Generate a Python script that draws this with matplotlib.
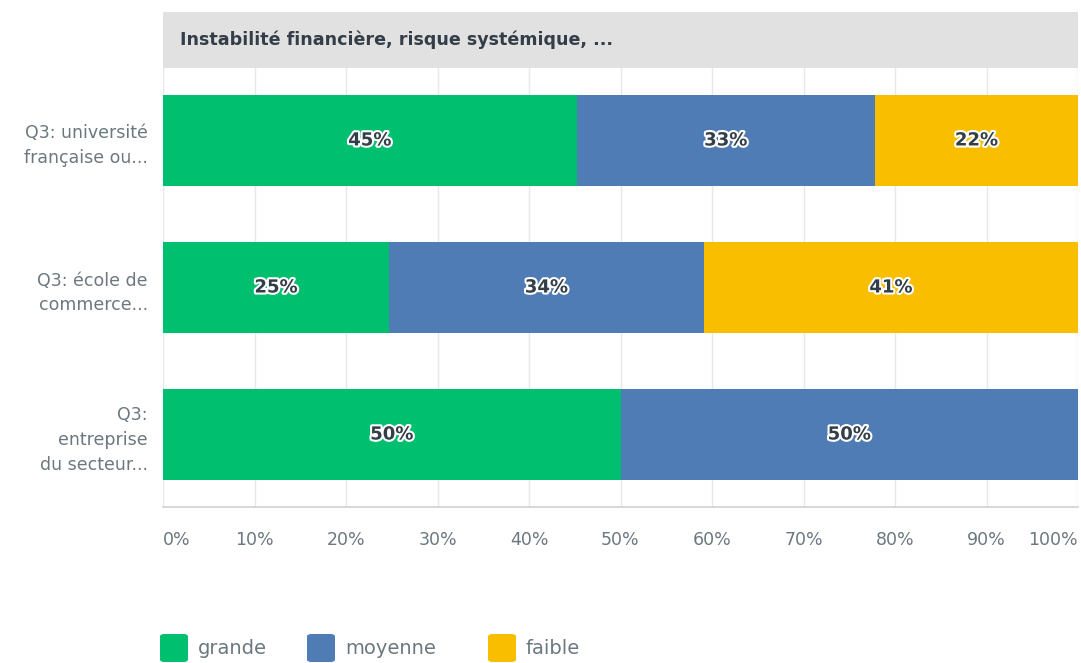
import matplotlib
matplotlib.use("Agg")
import matplotlib.pyplot as plt
import matplotlib.patheffects as pe
from matplotlib.patches import FancyBboxPatch, Rectangle
import numpy as np

plt.rcParams['font.family'] = ['DejaVu Sans']

categories = ["Q3: université\nfrançaise ou...",
              "Q3: école de\ncommerce...",
              "Q3:\nentreprise\ndu secteur..."]
series_names = ["grande", "moyenne", "faible"]
series_colors = ["#00bf6f", "#507cb6", "#f9be00"]
grande = [45.2, 24.7, 50.0]
moyenne = [32.6, 34.4, 50.0]
faible = [22.2, 40.9, 0.0]
series_values = [grande, moyenne, faible]
xticks = [0, 10, 20, 30, 40, 50, 60, 70, 80, 90, 100]
xtick_labels = ["0%", "10%", "20%", "30%", "40%", "50%", "60%", "70%", "80%", "90%", "100%"]
header_title = "Instabilité financière, risque systémique, ..."

W, H = 1081, 663
fig = plt.figure(figsize=(W / 100, H / 100), dpi=100)
ax = fig.add_axes([163 / W, 1 - 507 / H, 915 / W, (507 - 68) / H])

y = np.arange(len(categories))
left = np.zeros(len(categories))
for name, color, vals in zip(series_names, series_colors, series_values):
    vals = np.array(vals)
    ax.barh(y, vals, left=left, height=0.62, color=color, zorder=3)
    for yi, l, v in zip(y, left, vals):
        if v > 0:
            ax.text(l + v / 2, yi, f"{round(v):.0f}%", ha='center', va='center',
                    fontsize=13, fontweight='bold', color='#333e48', zorder=4,
                    path_effects=[pe.withStroke(linewidth=3, foreground='white')])
    left += vals

ax.set_xlim(0, 100)
ax.set_ylim(2.493, -0.493)
ax.set_xticks(xticks)
ax.set_xticklabels(xtick_labels, fontsize=12.5, color='#6b787f')
tl = ax.get_xticklabels()
tl[0].set_ha('left')
tl[-1].set_ha('right')
ax.set_yticks(y)
ax.set_yticklabels(categories, fontsize=12.5, color='#6b787f', linespacing=1.5)
ax.tick_params(axis='both', length=0)
ax.tick_params(axis='x', pad=17)
ax.tick_params(axis='y', pad=11)
ax.grid(axis='x', color='#e8e8e8', linewidth=1, zorder=0)
for s in ['top', 'right', 'left']:
    ax.spines[s].set_visible(False)
ax.spines['bottom'].set_color('#d0d0d0')
ax.spines['bottom'].set_linewidth(1.2)

# header band
fig.patches.append(Rectangle((163 / W, 1 - 68 / H), 915 / W, 56 / H,
                             transform=fig.transFigure, facecolor='#e1e1e1',
                             edgecolor='none', zorder=0))
fig.text(180 / W, 1 - 40 / H, header_title, fontsize=12.6, fontweight='bold',
         color='#333e48', va='center', ha='left')

# legend
lx = [160, 307, 488]
for x0, name, color in zip(lx, series_names, series_colors):
    fig.patches.append(FancyBboxPatch((x0 / W, 1 - 662 / H), 28 / W, 28 / H,
                                      boxstyle="round,pad=0,rounding_size=0.004",
                                      transform=fig.transFigure, facecolor=color,
                                      edgecolor='none'))
    fig.text((x0 + 38) / W, 1 - 649 / H, name, fontsize=14, color='#6b787f',
             va='center', ha='left')

fig.savefig("out.png", dpi=100)
